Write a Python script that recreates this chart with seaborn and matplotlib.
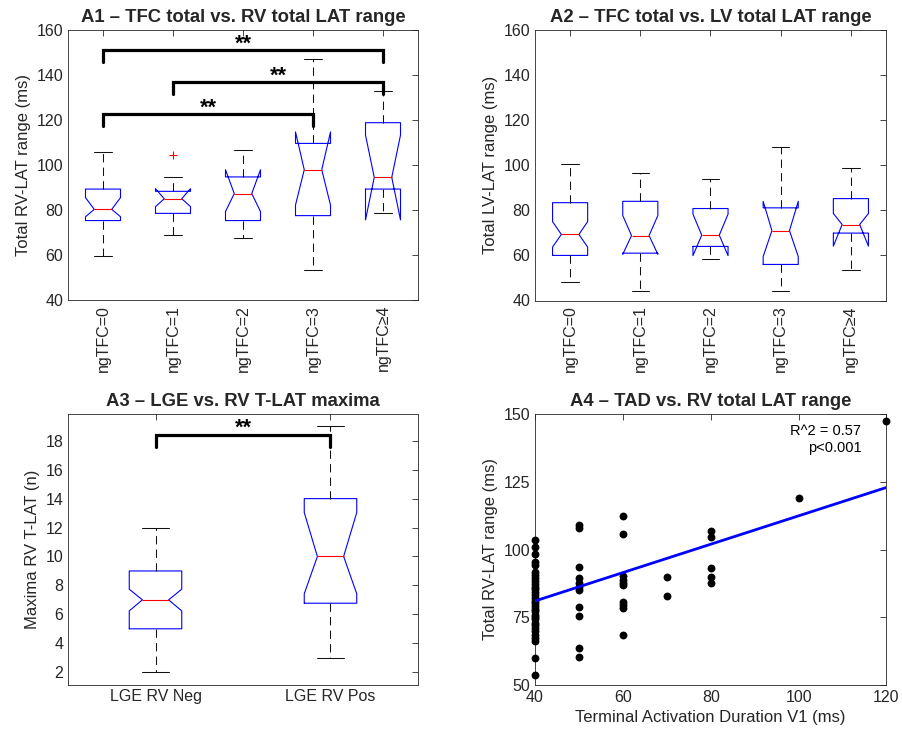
import numpy as np
import pandas as pd
import seaborn as sns
import matplotlib
matplotlib.use("Agg")
import matplotlib.pyplot as plt

sns.set_style("white")
plt.rcParams['font.family'] = ['Liberation Sans', 'DejaVu Sans']

# ---------------- Data ----------------
tfc_groups = ["ngTFC=0", "ngTFC=1", "ngTFC=2", "ngTFC=3", "ngTFC≥4"]

# A1 - RV total LAT range (box summaries)
rv_med = [80.3, 85.0, 87.3, 97.9, 94.5]
rv_q1 = [75.3, 78.5, 75.3, 77.5, 89.3]
rv_q3 = [89.3, 88.3, 94.7, 109.6, 118.8]
rv_cilo = [77.0, 81.5, 79.3, 82.2, 75.6]
rv_cihi = [85.5, 89.5, 97.9, 114.7, 113.3]
rv_wlo = [59.6, 68.9, 67.7, 53.3, 78.5]
rv_whi = [105.8, 94.7, 106.5, 147.3, 133.0]
rv_fliers = [[], [104.4], [], [], []]

# significance brackets A1: (group a, group b, bracket height, label)
rv_sig_a = [1, 2, 1]
rv_sig_b = [5, 5, 4]
rv_sig_h = [151.1, 136.9, 122.5]
rv_sig_lbl = ["**", "**", "**"]

# A2 - LV total LAT range
lv_med = [69.3, 68.8, 69.0, 71.0, 73.7]
lv_q1 = [60.0, 61.0, 64.0, 56.0, 69.9]
lv_q3 = [83.4, 84.0, 80.8, 81.1, 85.2]
lv_cilo = [63.7, 60.5, 59.9, 59.5, 64.1]
lv_cihi = [75.0, 77.7, 78.3, 84.0, 78.6]
lv_wlo = [48.4, 44.2, 58.4, 44.1, 53.5]
lv_whi = [100.6, 96.4, 94.0, 108.2, 98.9]

# A3 - LGE vs RV T-LAT maxima
lge_groups = ["LGE RV Neg", "LGE RV Pos"]
lge_med = [7.0, 10.0]
lge_q1 = [5.0, 6.77]
lge_q3 = [9.0, 14.0]
lge_cilo = [6.24, 7.42]
lge_cihi = [7.74, 13.04]
lge_wlo = [2.0, 3.0]
lge_whi = [12.0, 19.0]
lge_sig_h = 18.41

# A4 - TAD vs RV total LAT range
tad = ([40] * 32 + [50] * 11 + [60] * 10 + [70] * 2 + [80] * 5 + [100] + [120])
rv_range = [103.6, 101.1, 98.4, 95.3, 94.3, 91.6, 90.6, 89.4, 88.5, 87.2,
            86.3, 85.4, 84.2, 83.3, 82.1, 81.0, 80.3, 79.2, 78.1, 77.2,
            76.0, 75.1, 74.2, 73.0, 72.1, 71.0, 69.8, 68.6, 67.5, 66.1,
            59.9, 53.6,
            109.0, 108.1, 93.7, 89.4, 87.8, 86.3, 84.9, 78.9, 75.5, 63.8, 60.2,
            112.4, 105.9, 90.3, 88.8, 87.8, 86.8, 80.7, 79.7, 78.3, 68.3,
            90.0, 82.8,
            106.9, 104.7, 93.3, 89.7, 87.6,
            119.1,
            147.3]
fit_x = [40, 120]
fit_y = [81.0, 122.9]
r2_text = "R^2 = 0.57\np<0.001"

# ---------------- Styling helpers ----------------
AXC = '#262626'
TICK_FS = 11.5
LABEL_FS = 12
TITLE_FS = 13.3
STAR_FS = 15.5

def make_stats(med, q1, q3, cilo, cihi, wlo, whi, fliers=None):
    out = []
    for i in range(len(med)):
        out.append(dict(med=med[i], q1=q1[i], q3=q3[i], cilo=cilo[i], cihi=cihi[i],
                        whislo=wlo[i], whishi=whi[i],
                        fliers=(fliers[i] if fliers else [])))
    return out

def draw_box(ax, stats, width):
    ax.bxp(stats, positions=np.arange(1, len(stats) + 1), widths=width,
           shownotches=True, showfliers=True, manage_ticks=False,
           boxprops=dict(color='#0000ff', lw=0.8),
           whiskerprops=dict(color='#111111', lw=0.75, linestyle=(0, (8, 5))),
           capprops=dict(color='#111111', lw=0.75),
           medianprops=dict(color='#ff0000', lw=0.8),
           flierprops=dict(marker='+', markeredgecolor='#ff0000',
                           markersize=6, linestyle='none', markeredgewidth=0.8))

def style_ax(ax):
    for s in ax.spines.values():
        s.set_color(AXC)
        s.set_linewidth(0.6)
        s.set_visible(True)
    ax.tick_params(direction='in', top=True, right=True, length=4, width=0.6,
                   color=AXC, labelcolor=AXC, labelsize=TICK_FS)

def bracket(ax, a, b, h, drop, lbl, txt_off):
    ax.plot([a, a, b, b], [h - drop, h, h, h - drop], color='black', lw=2.3,
            solid_joinstyle='miter', clip_on=False)
    ax.text((a + b) / 2, h + txt_off, lbl, ha='center', va='baseline',
            fontsize=STAR_FS, fontweight='bold', color='black')

fig = plt.figure(figsize=(9.03, 7.34), dpi=100)
W, H = 903, 734
def rect(l, t, r, b):
    return [l / W, (H - b) / H, (r - l) / W, (b - t) / H]

ax1 = fig.add_axes(rect(68, 30, 418, 300))
ax2 = fig.add_axes(rect(535, 30, 886, 300.5))
ax3 = fig.add_axes(rect(68, 414, 418, 684.5))
ax4 = fig.add_axes(rect(535, 414, 886.5, 685))

# ---- A1 ----
draw_box(ax1, make_stats(rv_med, rv_q1, rv_q3, rv_cilo, rv_cihi, rv_wlo, rv_whi, rv_fliers), 0.5)
for a, b, h, l in zip(rv_sig_a, rv_sig_b, rv_sig_h, rv_sig_lbl):
    bracket(ax1, a, b, h, 5.3, l, 0.3)
ax1.set_xlim(0.5, 5.5)
ax1.set_ylim(40, 160)
ax1.set_yticks(np.arange(40, 161, 20))
ax1.set_xticks(np.arange(1, 6))
ax1.set_xticklabels(tfc_groups, rotation=90)
ax1.set_ylabel("Total RV-LAT range (ms)", fontsize=LABEL_FS, color=AXC)
ax1.set_title("A1 – TFC total vs. RV total LAT range", fontsize=TITLE_FS,
              fontweight='bold', pad=5.5)
style_ax(ax1)

# ---- A2 ----
draw_box(ax2, make_stats(lv_med, lv_q1, lv_q3, lv_cilo, lv_cihi, lv_wlo, lv_whi), 0.5)
ax2.set_xlim(0.5, 5.5)
ax2.set_ylim(40, 160)
ax2.set_yticks(np.arange(40, 161, 20))
ax2.set_xticks(np.arange(1, 6))
ax2.set_xticklabels(tfc_groups, rotation=90)
ax2.set_ylabel("Total LV-LAT range (ms)", fontsize=LABEL_FS, color=AXC)
ax2.set_title("A2 – TFC total vs. LV total LAT range", fontsize=TITLE_FS,
              fontweight='bold', pad=5.5)
style_ax(ax2)

# ---- A3 ----
draw_box(ax3, make_stats(lge_med, lge_q1, lge_q3, lge_cilo, lge_cihi, lge_wlo, lge_whi), 0.3)
bracket(ax3, 1, 2, lge_sig_h, 0.85, "**", 0.05)
ax3.set_xlim(0.5, 2.5)
ax3.set_ylim(1.15, 19.85)
ax3.set_yticks(np.arange(2, 19, 2))
ax3.set_xticks([1, 2])
ax3.set_xticklabels(lge_groups)
ax3.set_ylabel("Maxima RV T-LAT (n)", fontsize=LABEL_FS, color=AXC)
ax3.set_title("A3 – LGE vs. RV T-LAT maxima", fontsize=TITLE_FS,
              fontweight='bold', pad=5.5)
style_ax(ax3)

# ---- A4 ----
df4 = pd.DataFrame({"tad": tad, "rv": rv_range})
sns.scatterplot(data=df4, x="tad", y="rv", ax=ax4, color='black', s=32,
                linewidth=0, clip_on=False, zorder=3)
sns.lineplot(x=fit_x, y=fit_y, ax=ax4, color='#0000ff', lw=2, zorder=4)
ax4.set_xlim(40, 120)
ax4.set_ylim(50, 150)
ax4.set_xticks([40, 60, 80, 100, 120])
ax4.set_yticks([50, 75, 100, 125, 150])
ax4.set_xlabel("Terminal Activation Duration V1 (ms)", fontsize=LABEL_FS, color=AXC)
ax4.set_ylabel("Total RV-LAT range (ms)", fontsize=LABEL_FS, color=AXC)
ax4.set_title("A4 – TAD vs. RV total LAT range", fontsize=TITLE_FS,
              fontweight='bold', pad=5.5)
ax4.text(114.3, 140.6, r2_text, ha='right', va='center', fontsize=10.5,
         color='black', linespacing=1.25)
style_ax(ax4)

fig.savefig("out.png", dpi=100)
